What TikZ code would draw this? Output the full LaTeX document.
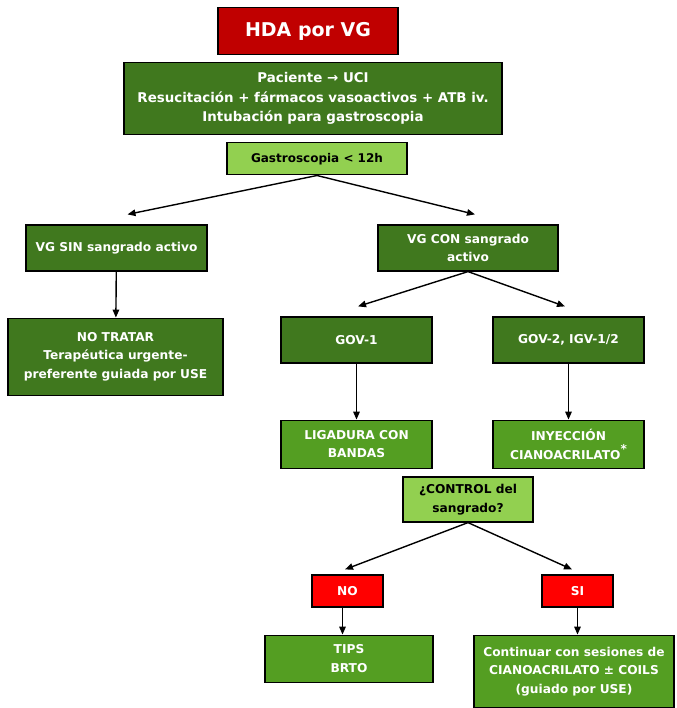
\documentclass[tikz,border=0pt]{standalone}
\usepackage{fontspec}
\setmainfont{DejaVu Sans}
\usetikzlibrary{arrows.meta,positioning}
\definecolor{darkred}{RGB}{192,0,0}
\definecolor{brightred}{RGB}{255,0,0}
\definecolor{darkgreen}{RGB}{64,120,30}
\definecolor{midgreen}{RGB}{84,158,34}
\definecolor{lightgreen}{RGB}{146,208,80}

\begin{document}
\begin{tikzpicture}[>={Triangle[length=8pt,width=6.5pt]}, x=1pt, y=1pt,
  box/.style={draw=black, line width=1.2pt, align=center, inner sep=2pt, text=white,
    font=\bfseries\fontsize{12.2}{18.5}\selectfont},
  dark/.style={box, fill=darkgreen},
  mid/.style={box, fill=midgreen},
  light/.style={box, fill=lightgreen, text=black},
  alert/.style={box, fill=brightred},
  link/.style={->, line width=1.4pt}]
  \useasboundingbox (0,0) rectangle (676,-708);
  \node[box,fill=darkred,minimum width=180pt,minimum height=47pt,font=\bfseries\fontsize{19}{22}\selectfont] (hda) at (308,-31) {HDA por VG};
  \node[dark,minimum width=378pt,minimum height=72pt,below=7pt of hda,xshift=5pt,font=\bfseries\fontsize{13.4}{19.5}\selectfont] (uci) {Paciente → UCI\\Resucitación + fármacos vasoactivos + ATB iv.\\Intubación para gastroscopia};
  \node[light,minimum width=180pt,minimum height=32pt,below=7pt of uci,xshift=4pt,font=\bfseries\fontsize{12}{14}\selectfont] (gastro) {Gastroscopia < 12h};
  \node[dark,minimum width=181pt,minimum height=46pt] (sin) at (116.5,-248) {VG SIN sangrado activo};
  \node[dark,minimum width=180pt,minimum height=46pt] (con) at (468,-248) {VG CON sangrado\\activo};
  \node[dark,minimum width=215pt,minimum height=77pt,below=46pt of sin,xshift=-1pt] (notratar) {NO TRATAR\\Terapéutica urgente-\\preferente guiada por USE};
  \node[dark,minimum width=151pt,minimum height=46pt] (gov1) at (356.5,-340) {GOV-1};
  \node[dark,minimum width=151pt,minimum height=46pt] (gov2) at (568.5,-340) {GOV-2, IGV-1/2};
  \node[mid,minimum width=151pt,minimum height=48pt,below=56pt of gov1] (ligadura) {LIGADURA CON\\BANDAS};
  \node[mid,minimum width=151pt,minimum height=48pt,below=56pt of gov2] (cianoacrilato) {INYECCIÓN\\CIANOACRILATO\raisebox{0.9ex}{*}};
  \node[light,minimum width=130pt,minimum height=45pt] (control) at (468,-499.5) {¿CONTROL del\\sangrado?};
  \node[alert,minimum width=71pt,minimum height=32pt] (no) at (347.5,-591) {NO};
  \node[alert,minimum width=71pt,minimum height=32pt] (si) at (577.5,-591) {SI};
  \node[mid,minimum width=168pt,minimum height=47pt,below=27pt of no,xshift=1.5pt] (tips) {TIPS\\BRTO};
  \node[mid,minimum width=200pt,minimum height=72pt,below=27pt of si,xshift=-3.5pt] (sesiones) {Continuar con sesiones de\\CIANOACRILATO ± COILS\\(guiado por USE)};
  \draw[link] (gastro.south) -- ([xshift=11pt,yshift=10pt]sin.north);
  \draw[link] (gastro.south) -- ([xshift=7pt,yshift=10pt]con.north);
  \draw[link] (sin) -- (notratar);
  \draw[link] (con.south) -- ([xshift=1.5pt,yshift=10pt]gov1.north);
  \draw[link] (con.south) -- ([xshift=-3.5pt,yshift=10pt]gov2.north);
  \draw[link] (gov1) -- (ligadura);
  \draw[link] (gov2) -- (cianoacrilato);
  \draw[link] (control.south) -- ([xshift=-2.5pt,yshift=5pt]no.north);
  \draw[link] (control.south) -- ([xshift=-5.5pt,yshift=5pt]si.north);
  \draw[link] ([xshift=-5pt]no.south) -- ([xshift=-5pt]no.south |- tips.north);
  \draw[link] (si.south) -- (si.south |- sesiones.north);
\end{tikzpicture}
\end{document}
